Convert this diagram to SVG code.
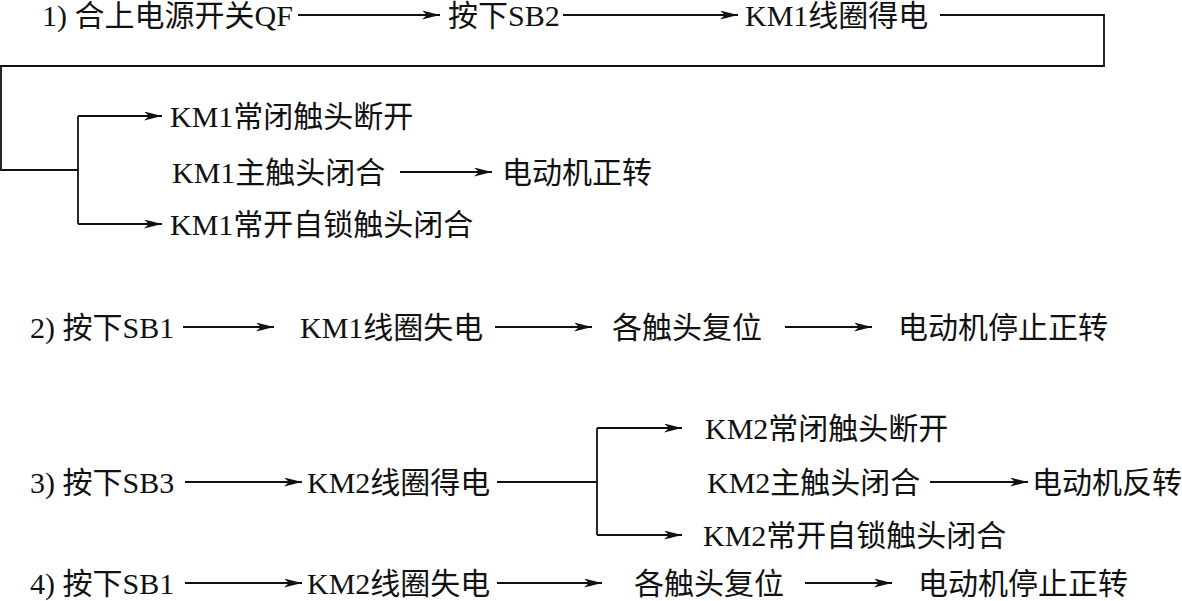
<svg xmlns="http://www.w3.org/2000/svg" width="1182" height="601" viewBox="0 0 1182 601">
<style>
text{font-family:"Liberation Serif","Noto Sans CJK SC",serif;font-size:30px;fill:#111}
.c{fill:none;stroke:#111;stroke-width:1.8}
.a{marker-end:url(#ah)}
</style>
<defs>
<marker id="ah" markerUnits="userSpaceOnUse" markerWidth="20" markerHeight="10" refX="18" refY="4.5" orient="auto">
<path d="M0,0 L18,4.5 L0,9 L5,4.5 Z" fill="#111"/>
</marker>
</defs>
<rect width="1182" height="601" fill="#fff"/>
<g id="connectors">
<path class="c a" d="M298,15 H440"/>
<path class="c a" d="M563,15 H738"/>
<path class="c" d="M940,15 H1104 V66 H1 V170 H78"/>
<path class="c" d="M78,116 V224"/>
<path class="c a" d="M78,116 H162"/>
<path class="c a" d="M78,224 H162"/>
<path class="c a" d="M400,172 H492"/>
<path class="c a" d="M183,327 H274"/>
<path class="c a" d="M495,327 H592"/>
<path class="c a" d="M785,327 H872"/>
<path class="c a" d="M185,482 H302"/>
<path class="c" d="M497,482 H597"/>
<path class="c" d="M597,428 V535"/>
<path class="c a" d="M597,428 H682"/>
<path class="c a" d="M597,535 H682"/>
<path class="c a" d="M930,482 H1028"/>
<path class="c a" d="M185,583 H302"/>
<path class="c a" d="M497,583 H602"/>
<path class="c a" d="M805,583 H892"/>
</g>
<g id="n1"><text x="42" y="26">1) 合上电源开关QF</text></g>
<g id="n2"><text x="448" y="26">按下SB2</text></g>
<g id="n3"><text x="745" y="26">KM1线圈得电</text></g>
<g id="n4"><text x="170" y="127">KM1常闭触头断开</text></g>
<g id="n5"><text x="172" y="183">KM1主触头闭合</text></g>
<g id="n6"><text x="502" y="183">电动机正转</text></g>
<g id="n7"><text x="170" y="235">KM1常开自锁触头闭合</text></g>
<g id="n8"><text x="30" y="338">2) 按下SB1</text></g>
<g id="n9"><text x="300" y="338">KM1线圈失电</text></g>
<g id="n10"><text x="612" y="338">各触头复位</text></g>
<g id="n11"><text x="898" y="338">电动机停止正转</text></g>
<g id="n12"><text x="30" y="493">3) 按下SB3</text></g>
<g id="n13"><text x="307" y="493">KM2线圈得电</text></g>
<g id="n14"><text x="705" y="439">KM2常闭触头断开</text></g>
<g id="n15"><text x="707" y="493">KM2主触头闭合</text></g>
<g id="n16"><text x="1032" y="493">电动机反转</text></g>
<g id="n17"><text x="703" y="546">KM2常开自锁触头闭合</text></g>
<g id="n18"><text x="30" y="594">4) 按下SB1</text></g>
<g id="n19"><text x="307" y="594">KM2线圈失电</text></g>
<g id="n20"><text x="634" y="594">各触头复位</text></g>
<g id="n21"><text x="918" y="594">电动机停止正转</text></g>
</svg>
